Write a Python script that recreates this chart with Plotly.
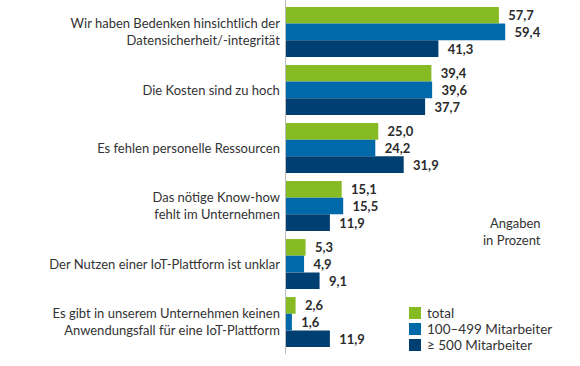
import plotly.graph_objects as go

categories = [
    "Wir haben Bedenken hinsichtlich der<br>Datensicherheit/-integrität",
    "Die Kosten sind zu hoch",
    "Es fehlen personelle Ressourcen",
    "Das nötige Know-how<br>fehlt im Unternehmen",
    "Der Nutzen einer IoT-Plattform ist unklar",
    "Es gibt in unserem Unternehmen keinen<br>Anwendungsfall für eine IoT-Plattform",
]
series_names = ["total", "100–499 Mitarbeiter", "≥ 500 Mitarbeiter"]
total = [57.7, 39.4, 25.0, 15.1, 5.3, 2.6]
mid = [59.4, 39.6, 24.2, 15.5, 4.9, 1.6]
large = [41.3, 37.7, 31.9, 11.9, 9.1, 11.9]
colors = ["#86bb24", "#0069aa", "#003f72"]

W, H = 580, 366
ML, MR, MT, MB = 286, 14, 0, 12
PW = W - ML - MR
PH = H - MT - MB
PX_PER_UNIT = 3.69


def px(xp):
    return (xp - ML) / PW


def py(yp):
    return 1 - (yp - MT) / PH


def fmt(v):
    return "\u00a0\u00a0" + f"{v:.1f}".replace(".", ",")


fig = go.Figure()
for name, vals, col in zip(series_names, [total, mid, large], colors):
    fig.add_trace(go.Bar(
        y=categories, x=vals, orientation="h", name=name,
        marker=dict(color=col, line=dict(width=0)),
        text=[fmt(v) for v in vals], textposition="outside",
        textfont=dict(family="Lato, sans-serif", size=13, color="#2b2b2b", weight="bold"),
        cliponaxis=False, showlegend=False,
    ))

# manual legend (compact rows like the reference)
shapes = []
annotations = []
LEG_X, LEG_Y0, LEG_DY, SQ = 409, 307, 16, 12
for i, (name, col) in enumerate(zip(series_names, colors)):
    y0 = LEG_Y0 + i * LEG_DY
    shapes.append(dict(
        type="rect", xref="paper", yref="paper",
        x0=px(LEG_X), x1=px(LEG_X + SQ), y0=py(y0 + SQ), y1=py(y0),
        fillcolor=col, line=dict(width=0),
    ))
    annotations.append(dict(
        text=name, xref="paper", yref="paper",
        x=px(LEG_X + SQ + 5), y=py(y0 + SQ / 2), xanchor="left", yanchor="middle",
        showarrow=False, borderpad=0, font=dict(size=13.5, color="#333333"),
    ))

annotations.append(dict(
    text="Angaben<br>in Prozent", xref="paper", yref="paper",
    x=px(543), y=py(232), xanchor="right", yanchor="middle",
    align="right", showarrow=False, font=dict(size=13, color="#333333"),
))

fig.update_layout(
    width=W, height=H,
    margin=dict(l=ML, r=MR, t=MT, b=MB),
    barmode="group", bargap=0.138, bargroupgap=0,
    plot_bgcolor="white", paper_bgcolor="white",
    font=dict(family="Lato, sans-serif", size=13, color="#333333"),
    showlegend=False,
    xaxis=dict(range=[0, PW / PX_PER_UNIT], visible=False, fixedrange=True),
    yaxis=dict(
        range=[5.55, -0.55], showline=True, linecolor="#bdbdbd", linewidth=1.5,
        showgrid=False, ticks="", ticklabelstandoff=2, zeroline=False,
        fixedrange=True,
    ),
    shapes=shapes,
    annotations=annotations,
)

fig.write_html(
    "out.html",
    config={"displayModeBar": False, "staticPlot": True},
    post_script="document.body.style.margin='0';",
)
